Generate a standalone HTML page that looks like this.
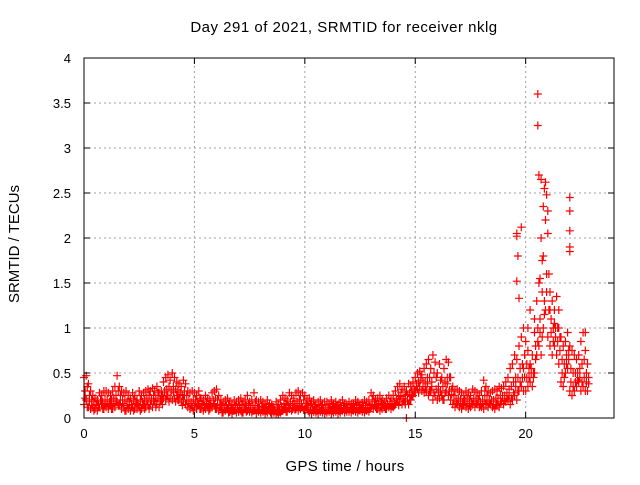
<!DOCTYPE html>
<html><head><meta charset="utf-8"><style>
body{margin:0;background:#fff}
svg text{font-family:"Liberation Sans",sans-serif;font-size:13px;fill:#000}
svg text.big{font-size:15px;letter-spacing:0.5px}
</style></head><body>
<svg id="chart" width="640" height="480" viewBox="0 0 640 480" xmlns="http://www.w3.org/2000/svg">
<rect width="640" height="480" fill="#fff"/>
<g id="grid"></g>
<g id="marks"></g>
<rect x="84" y="58" width="530" height="360" fill="none" stroke="#000" stroke-width="1"/>
<g id="ticks"></g>
<text class="big" x="344" y="32" text-anchor="middle">Day 291 of 2021, SRMTID for receiver nklg</text>
<text class="big" x="345" y="471" text-anchor="middle" style="letter-spacing:0.3px">GPS time / hours</text>
<text class="big" x="0" y="0" text-anchor="middle" style="letter-spacing:0" transform="translate(19,244) rotate(-90)">SRMTID / TECUs</text>
</svg>
<script>
const xTicks=[0,5,10,15,20];
const yTicks=[0,0.5,1,1.5,2,2.5,3,3.5,4];
const yTickLabels=["0","0.5","1","1.5","2","2.5","3","3.5","4"];
const t0=0;
const tStep=0.1;
const s1=[.45,.47,.38,.3,.25,.22,.2,.28,.25,.3,
.3,.28,.25,.3,.35,.47,.35,.3,.28,.3,
.25,.22,.28,.25,.2,.3,.25,.28,.3,.32,
.3,.33,.3,.35,.28,.3,.4,.45,.48,.42,
.5,.45,.4,.38,.35,.42,.38,.3,.28,.3,
.28,.25,.3,.22,.2,.25,.22,.2,.28,.3,
.32,.25,.2,.18,.2,.22,.18,.15,.2,.18,
.2,.22,.18,.2,.25,.18,.2,.28,.2,.18,
.2,.18,.15,.2,.16,.15,.12,.18,.15,.2,
.25,.22,.2,.28,.25,.22,.28,.3,.25,.28,
.25,.2,.22,.18,.2,.15,.18,.2,.15,.18,
.18,.15,.2,.16,.18,.15,.17,.2,.16,.15,
.18,.16,.15,.2,.18,.15,.17,.2,.18,.2,
.28,.25,.2,.22,.25,.2,.18,.22,.25,.22,
.25,.3,.35,.38,.32,.35,.3,.38,.35,.4,
.45,.5,.52,.48,.55,.6,.65,.55,.7,.62,
.5,.6,.45,.55,.65,.62,.45,.35,.3,.32,
.3,.28,.25,.3,.28,.25,.32,.3,.28,.25,
.3,.42,.35,.3,.28,.3,.32,.3,.35,.33,
.35,.4,.45,.55,.6,.7,.65,.8,.9,1.0,
.85,.75,.6,.7,1.1,1.3,1.5,2.0,1.8,2.2,
2.3,1.4,1.3,1.2,1.35,1.2,.9,.8,.85,.95,
.8,.75,.7,.65,.7,.85,.95,.75,.6];
const s2=[.15,.2,.12,.1,.12,.1,.08,.12,.15,.1,
.12,.1,.15,.1,.12,.18,.15,.1,.12,.08,
.1,.08,.12,.1,.1,.12,.1,.15,.12,.15,
.15,.12,.18,.15,.12,.2,.22,.2,.25,.22,
.2,.22,.25,.2,.18,.2,.15,.12,.1,.12,
.12,.1,.15,.1,.08,.1,.12,.1,.12,.15,
.1,.08,.1,.06,.08,.1,.07,.05,.08,.06,
.07,.08,.06,.1,.08,.07,.06,.08,.05,.07,
.06,.07,.05,.06,.08,.05,.06,.05,.04,.06,
.08,.1,.07,.1,.08,.12,.1,.08,.1,.12,
.08,.1,.06,.05,.07,.06,.05,.07,.06,.05,
.06,.07,.05,.06,.07,.05,.06,.08,.06,.07,
.07,.06,.08,.07,.06,.08,.07,.06,.08,.07,
.12,.1,.12,.1,.08,.1,.12,.1,.12,.1,
.12,.15,.18,.2,.15,.18,0,.15,.2,.25,
.3,.32,.35,.3,.28,.3,.25,.3,.2,.25,
.2,.22,.25,.2,.3,.25,.2,.15,.12,.15,
.12,.1,.15,.12,.1,.12,.15,.12,.15,.12,
.12,.1,.15,.12,.15,.12,.1,.15,.12,.18,
.15,.18,.2,.15,.2,.25,.2,.3,.35,.3,
.3,.35,.4,.35,.5,.7,.8,.7,1.0,1.2,
.9,.8,.7,.8,.7,.6,.4,.35,.5,.55,
.3,.25,.3,.35,.4,.3,.35,.3,.3];
const s3=[.3,.35,.25,.2,.18,.15,.15,.2,.18,.2,
.2,.18,.2,.22,.25,.3,.25,.2,.2,.18,
.18,.15,.2,.18,.15,.2,.18,.2,.22,.25,
.22,.25,.22,.28,.2,.25,.3,.32,.35,.3,
.35,.32,.3,.28,.25,.3,.25,.2,.18,.2,
.2,.18,.22,.15,.14,.18,.16,.15,.2,.22,
.2,.15,.14,.12,.14,.15,.12,.1,.14,.12,
.14,.15,.12,.14,.16,.12,.14,.18,.12,.12,
.13,.12,.1,.13,.11,.1,.09,.12,.1,.13,
.16,.15,.14,.18,.16,.16,.18,.2,.16,.2,
.16,.14,.15,.12,.13,.1,.12,.14,.1,.12,
.12,.1,.13,.11,.12,.1,.11,.14,.11,.1,
.12,.11,.1,.14,.12,.1,.12,.14,.12,.14,
.2,.18,.15,.16,.18,.15,.14,.16,.18,.16,
.18,.22,.25,.28,.22,.25,.2,.28,.3,.32,
.38,.4,.42,.4,.4,.45,.45,.4,.5,.45,
.35,.42,.35,.4,.45,.45,.32,.25,.2,.22,
.2,.18,.2,.22,.2,.18,.22,.2,.2,.18,
.2,.3,.25,.2,.2,.2,.22,.22,.25,.25,
.25,.28,.32,.35,.4,.45,.45,.55,.6,.7,
.6,.55,.5,.5,.8,1.0,1.1,1.4,1.3,1.6,
1.6,1.1,1.0,1.0,1.0,.9,.65,.6,.7,.75,
.55,.5,.5,.5,.55,.6,.65,.5,.45];
const s4=[.22,.12,.18,.14,.08,.14,.12,.2,.1,.14,
.16,.14,.1,.16,.2,.14,.2,.16,.08,.14,
.14,.12,.08,.16,.14,.08,.15,.1,.18,.1,
.2,.18,.12,.22,.18,.15,.28,.25,.18,.3,
.28,.18,.2,.26,.14,.25,.2,.16,.14,.08,
.16,.14,.1,.16,.12,.14,.08,.14,.16,.1,
.14,.12,.06,.1,.12,.06,.1,.08,.1,.1,
.1,.06,.1,.07,.1,.1,.08,.1,.09,.1,
.09,.08,.08,.1,.06,.08,.08,.07,.07,.09,
.12,.07,.12,.14,.1,.09,.14,.12,.13,.09,
.12,.08,.1,.09,.1,.08,.09,.1,.09,.08,
.09,.1,.08,.09,.1,.08,.09,.1,.09,.1,
.1,.09,.12,.1,.09,.11,.1,.09,.1,.1,
.15,.14,.1,.14,.12,.14,.1,.14,.15,.13,
.15,.2,.14,.24,.2,.15,.26,.2,.24,.28,
.35,.28,.45,.35,.32,.38,.3,.35,.28,.32,
.28,.3,.2,.28,.38,.3,.26,.2,.16,.18,
.16,.14,.18,.16,.14,.16,.18,.16,.18,.15,
.16,.2,.18,.16,.18,.15,.14,.18,.16,.22,
.2,.22,.25,.22,.28,.35,.3,.4,.45,.45,
.45,.45,.55,.45,.65,.85,.95,.9,1.15,1.4,
1.2,.95,.85,.9,.85,.75,.5,.45,.6,.65,
.4,.35,.4,.42,.45,.4,.45,.4,.38];
const spikeT=[19.6,19.6,19.65,19.8,19.6,19.7,20.55,20.55,20.6,20.7,20.8,20.85,20.9,20.95,20.75,20.65,21.0,21.1,20.4,22.0,22.0,22.0,22.0,22.0,21.5,22.7,20.1,19.9,20.2,21.3];
const spikeV=[2.05,2.02,1.8,2.12,1.52,1.33,3.6,3.25,2.7,2.65,2.35,2.55,2.62,2.48,1.75,1.55,2.05,1.2,0.95,2.45,2.3,2.08,1.9,1.85,1.0,0.95,1.0,0.55,1.2,1.05];

const NS='http://www.w3.org/2000/svg';
const X0=84,X1=614,Y0=418,Y1=58,XMAX=24,YMAX=4;
function xs(v){return X0+(X1-X0)*v/XMAX;}
function ys(v){return Y0-(Y0-Y1)*v/YMAX;}
function mk(tag,attrs,parent){const e=document.createElementNS(NS,tag);for(const k in attrs)e.setAttribute(k,attrs[k]);parent.appendChild(e);return e;}
const grid=document.getElementById('grid'),ticks=document.getElementById('ticks'),marks=document.getElementById('marks');
xTicks.forEach(v=>{const x=xs(v);
 if(v>0){const g=mk('line',{x1:x,x2:x,y1:Y0,y2:Y1,stroke:'#a0a0a0','stroke-dasharray':'2,3'},grid);
 
 }
 mk('line',{x1:x,x2:x,y1:Y0,y2:Y0-6,stroke:'#000'},ticks);
 mk('line',{x1:x,x2:x,y1:Y1,y2:Y1+6,stroke:'#000'},ticks);
 const t=mk('text',{x:x,y:Y0+20,'text-anchor':'middle'},ticks);t.textContent=v;
 
 
});
yTicks.forEach((v,i)=>{const y=ys(v);
 if(v>0&&v<YMAX){const g=mk('line',{x1:X0,x2:X1,y1:y,y2:y,stroke:'#a0a0a0','stroke-dasharray':'2,3'},grid);
 
 }
 mk('line',{x1:X0,x2:X0+6,y1:y,y2:y,stroke:'#000'},ticks);
 mk('line',{x1:X1,x2:X1-6,y1:y,y2:y,stroke:'#000'},ticks);
 const t=mk('text',{x:X0-13,y:y+5,'text-anchor':'end'},ticks);t.textContent=yTickLabels[i];
 
 
});
let d='';
function plus(t,v){const x=xs(t),y=ys(v);d+=`M${(x-4).toFixed(1)} ${y.toFixed(1)}h8M${x.toFixed(1)} ${(y-4).toFixed(1)}v8`;}
s1.forEach((v,i)=>plus(t0+i*tStep,v));
s2.forEach((v,i)=>plus(t0+i*tStep,v));
s3.forEach((v,i)=>plus(t0+i*tStep+tStep/2,v));
s4.forEach((v,i)=>plus(t0+i*tStep+tStep/2,v));
spikeT.forEach((t,i)=>plus(t,spikeV[i]));
const p=mk('path',{d:d,stroke:'#ff0000','stroke-width':1.2,fill:'none'},marks);


</script>
</body></html>
